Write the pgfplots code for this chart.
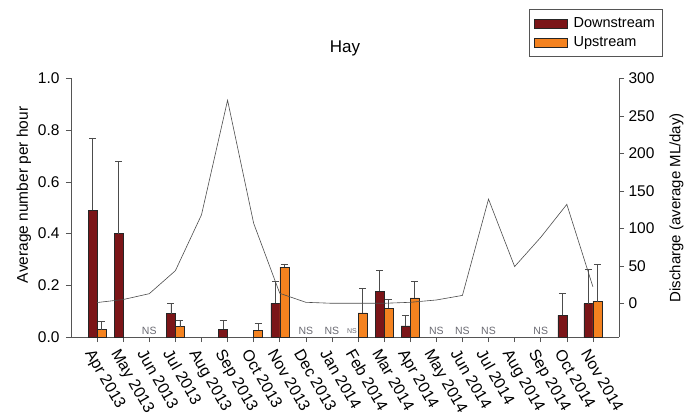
\documentclass[border=0pt]{standalone}
\usepackage{fontspec}
\setmainfont{Liberation Sans}
\usepackage{pgfplots}
\usepackage{pgfplotstable}
\pgfplotsset{compat=1.18}
\definecolor{down}{HTML}{7B1518}
\definecolor{up}{HTML}{F4821F}
\definecolor{axgray}{HTML}{555555}
\definecolor{nsgray}{HTML}{6A6A72}

\pgfplotstableread{
x y e
0 0.49 0.28
1 0.40 0.28
3 0.09 0.04
5 0.030 0.033
7 0.13 0.084
11 0.177 0.08
12 0.043 0.04
18 0.084 0.084
19 0.129 0.131
}\downdata

\pgfplotstableread{
x y e
0 0.029 0.031
3 0.040 0.026
6 0.026 0.028
7 0.27 0.013
10 0.093 0.095
11 0.112 0.033
12 0.151 0.063
19 0.137 0.143
}\updata

\pgfplotstableread{
x q
0 1
1 5
2 12.8
3 43.5
4 118
5 271
6 106.7
7 13.3
8 1.3
9 0
10 0
11 0
12 1.3
13 4.4
14 10.5
15 139
16 49
17 88
18 132
19 22
}\qdata

\begin{document}
\begin{tikzpicture}[x=1pt,y=1pt]
\useasboundingbox (-71,-75) rectangle (613,337);
\begin{axis}[
  scale only axis, width=548pt, height=258.5pt,
  clip=false,
  xmin=-1, xmax=20, ymin=0, ymax=1,
  axis x line*=bottom, axis y line*=left,
  axis line style={axgray, line width=0.6pt},
  tick style={axgray, line width=0.6pt},
  tick align=outside, major tick length=5pt,
  xtick={0,...,19},
  xticklabels={Apr 2013, May 2013, Jun 2013, Jul 2013, Aug 2013, Sep 2013, Oct 2013, Nov 2013, Dec 2013, Jan 2014, Feb 2014, Mar 2014, Apr 2014, May 2014, Jun 2014, Jul 2014, Aug 2014, Sep 2014, Oct 2014, Nov 2014},
  xticklabel style={rotate=-60, anchor=north west, font=\fontsize{16}{16}\selectfont, inner sep=1pt, xshift=2.5pt, yshift=-4pt},
  ytick={0,0.2,0.4,0.6,0.8,1},
  yticklabel style={/pgf/number format/.cd, fixed, fixed zerofill, precision=1, /tikz/.cd, font=\fontsize{15.5}{15.5}\selectfont, xshift=-3pt},
  /pgf/number format/assume math mode=true,
  ylabel={Average number per hour},
  ylabel style={at={(axis description cs:-0.0858,0.55)}, anchor=center, font=\fontsize{15.5}{15.5}\selectfont},
  legend style={at={(axis description cs:1.079,1.268)}, anchor=north east, draw=axgray, line width=0.6pt, font=\fontsize{14.5}{14.5}\selectfont, inner xsep=5pt, inner ysep=6pt, row sep=4pt, cells={anchor=west}, /tikz/every odd column/.append style={column sep=4pt}},
  legend image code/.code={\draw[#1, line width=0.5pt] (0pt,-4.5pt) rectangle (33pt,4.5pt);},
]
\addplot[ybar, bar width=9pt, bar shift=-4.5pt, fill=down, draw=black!85, line width=0.5pt,
  error bars/.cd, y dir=plus, y explicit,
  error bar style={black!70, line width=0.6pt, xshift=-4.5pt},
  error mark options={black!70, line width=0.6pt, mark size=3.5pt, rotate=90}]
  table[x=x, y=y, y error=e] {\downdata};
\addlegendentry{Downstream}
\addplot[ybar, bar width=9pt, bar shift=4.5pt, fill=up, draw=black!85, line width=0.5pt,
  error bars/.cd, y dir=plus, y explicit,
  error bar style={black!70, line width=0.6pt, xshift=4.5pt},
  error mark options={black!70, line width=0.6pt, mark size=3.5pt, rotate=90}]
  table[x=x, y=y, y error=e] {\updata};
\addlegendentry{Upstream}
\node[font=\fontsize{17}{17}\selectfont] at (rel axis cs:0.5,1.118) {Hay};
\node[font=\fontsize{10.5}{10.5}\selectfont, text=nsgray, inner sep=0pt] at (axis cs:2,0.025) {NS};
\node[font=\fontsize{10.5}{10.5}\selectfont, text=nsgray, inner sep=0pt] at (axis cs:8,0.025) {NS};
\node[font=\fontsize{10.5}{10.5}\selectfont, text=nsgray, inner sep=0pt] at (axis cs:9,0.025) {NS};
\node[font=\fontsize{10.5}{10.5}\selectfont, text=nsgray, inner sep=0pt] at (axis cs:13,0.025) {NS};
\node[font=\fontsize{10.5}{10.5}\selectfont, text=nsgray, inner sep=0pt] at (axis cs:14,0.025) {NS};
\node[font=\fontsize{10.5}{10.5}\selectfont, text=nsgray, inner sep=0pt] at (axis cs:15,0.025) {NS};
\node[font=\fontsize{10.5}{10.5}\selectfont, text=nsgray, inner sep=0pt] at (axis cs:17,0.025) {NS};
\node[font=\fontsize{7}{7}\selectfont, text=nsgray, inner sep=0pt, xshift=-6pt] at (axis cs:10,0.022) {NS};
\end{axis}
\begin{axis}[
  scale only axis, width=548pt, height=258.5pt,
  xmin=-1, xmax=20, ymin=-45, ymax=300,
  axis y line*=right, axis x line=none,
  axis line style={axgray, line width=0.6pt},
  tick style={axgray, line width=0.6pt},
  tick align=outside, major tick length=5pt,
  ytick={0,50,100,150,200,250,300},
  yticklabel style={font=\fontsize{15.5}{15.5}\selectfont, xshift=1pt},
  /pgf/number format/assume math mode=true,
  ylabel={Discharge (average ML/day)},
  ylabel style={at={(axis description cs:1.105,0.5)}, anchor=center, font=\fontsize{15}{15}\selectfont},
]
\addplot[black!70, line width=0.6pt] table[x=x, y=q] {\qdata};
\end{axis}
\end{tikzpicture}
\end{document}
